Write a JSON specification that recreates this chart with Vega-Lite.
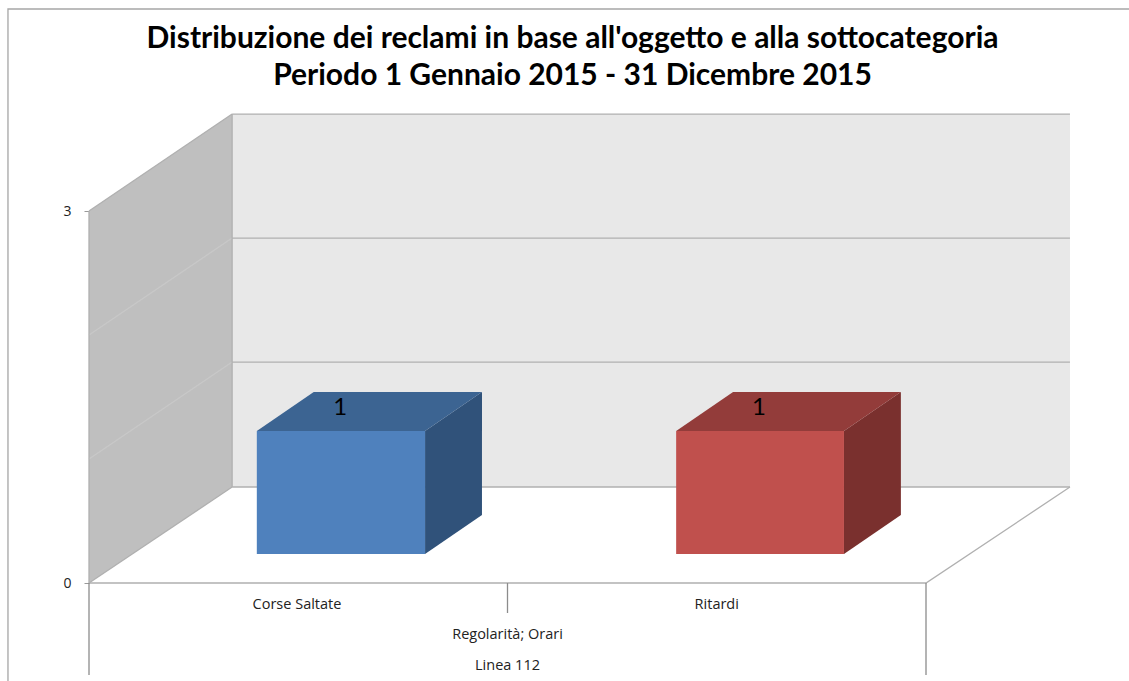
{
  "$schema": "https://vega.github.io/schema/vega-lite/v6.json",
  "width": 1129,
  "height": 681,
  "padding": 0,
  "autosize": "none",
  "background": "white",
  "config": {"view": {"stroke": null}, "font": "Lato"},
  "title": {
    "text": ["Distribuzione dei reclami in base all'oggetto e alla sottocategoria", "Periodo 1 Gennaio 2015 - 31 Dicembre 2015"],
    "anchor": "middle", "frame": "group", "orient": "top", "baseline": "top",
    "offset": -91, "dx": 8, "font": "Lato", "fontSize": 30, "fontWeight": "bold", "color": "black", "lineHeight": 37
  },
  "datasets": {
    "wall": [
      {"x": 0.342, "lo": 0.774, "hi": 3.782, "part": "fondo"},
      {"x": 2.344, "lo": 0.774, "hi": 3.782, "part": "fondo"},
      {"x": 0, "lo": 0, "hi": 3, "part": "lato"},
      {"x": 0.342, "lo": 0.774, "hi": 3.782, "part": "lato"}
    ],
    "lines": [
      {"id": "cornice", "k": "cornice", "x": -0.1936, "y": -0.79},
      {"id": "cornice", "k": "cornice", "x": -0.1936, "y": 4.629},
      {"id": "cornice", "k": "cornice", "x": 2.49, "y": 4.629},
      {"id": "griglia1", "k": "griglia", "x": 0.342, "y": 1.782},
      {"id": "griglia1", "k": "griglia", "x": 2.344, "y": 1.782},
      {"id": "griglia2", "k": "griglia", "x": 0.342, "y": 2.782},
      {"id": "griglia2", "k": "griglia", "x": 2.344, "y": 2.782},
      {"id": "griglia3", "k": "griglia", "x": 0.342, "y": 3.782},
      {"id": "griglia3", "k": "griglia", "x": 2.344, "y": 3.782},
      {"id": "griglia4", "k": "griglia", "x": 0.342, "y": 0.774},
      {"id": "griglia4", "k": "griglia", "x": 2.344, "y": 0.774},
      {"id": "lato1", "k": "chiara", "x": 0, "y": 1},
      {"id": "lato1", "k": "chiara", "x": 0.342, "y": 1.782},
      {"id": "lato2", "k": "chiara", "x": 0, "y": 2},
      {"id": "lato2", "k": "chiara", "x": 0.342, "y": 2.782},
      {"id": "bordoA", "k": "griglia", "x": 0, "y": 0},
      {"id": "bordoA", "k": "griglia", "x": 0, "y": 3},
      {"id": "bordoB", "k": "griglia", "x": 0, "y": 3},
      {"id": "bordoB", "k": "griglia", "x": 0.342, "y": 3.782},
      {"id": "bordoC", "k": "griglia", "x": 0.342, "y": 3.782},
      {"id": "bordoC", "k": "griglia", "x": 0.342, "y": 0.774},
      {"id": "bordoD", "k": "griglia", "x": 0, "y": 0},
      {"id": "bordoD", "k": "griglia", "x": 0.342, "y": 0.774},
      {"id": "pavimento", "k": "griglia", "x": 0, "y": 0},
      {"id": "pavimento", "k": "griglia", "x": 2, "y": 0},
      {"id": "pavimento", "k": "griglia", "x": 2.344, "y": 0.774},
      {"id": "div0", "k": "divisore", "x": 0, "y": 0},
      {"id": "div0", "k": "divisore", "x": 0, "y": -0.742},
      {"id": "div1", "k": "divisore", "x": 1, "y": 0},
      {"id": "div1", "k": "divisore", "x": 1, "y": -0.242},
      {"id": "div2", "k": "divisore", "x": 2, "y": 0},
      {"id": "div2", "k": "divisore", "x": 2, "y": -0.742}
    ],
    "sides": [
      {"face": "blu", "x": 0.803, "lo": 0.234, "hi": 1.226},
      {"face": "blu", "x": 0.939, "lo": 0.548, "hi": 1.54},
      {"face": "rosso", "x": 1.804, "lo": 0.234, "hi": 1.226},
      {"face": "rosso", "x": 1.94, "lo": 0.548, "hi": 1.54}
    ],
    "tops": [
      {"face": "blu top", "y": 1.226, "x0": 0.401, "x1": 0.803},
      {"face": "blu top", "y": 1.54, "x0": 0.537, "x1": 0.939},
      {"face": "rosso top", "y": 1.226, "x0": 1.403, "x1": 1.804},
      {"face": "rosso top", "y": 1.54, "x0": 1.539, "x1": 1.94}
    ],
    "bars": [
      {"categoria": "Corse Saltate", "valore": 1, "x0": 0.401, "x1": 0.803, "base": 0.234, "top": 1.226, "xl": 0.6, "yl": 1.411},
      {"categoria": "Ritardi", "valore": 1, "x0": 1.403, "x1": 1.804, "base": 0.234, "top": 1.226, "xl": 1.601, "yl": 1.411}
    ],
    "labels": [
      {"t": "Corse Saltate", "x": 0.497, "y": -0.177},
      {"t": "Ritardi", "x": 1.5, "y": -0.177},
      {"t": "Regolarità; Orari", "x": 1, "y": -0.419},
      {"t": "Linea 112", "x": 1, "y": -0.669}
    ]
  },
  "layer": [
    {
      "data": {"name": "wall"},
      "mark": {"type": "area"},
      "encoding": {
        "x": {"field": "x", "type": "quantitative", "scale": {"domain": [0, 2], "range": [89, 926], "nice": false, "zero": false}, "axis": null},
        "y": {"field": "lo", "type": "quantitative", "scale": {"domain": [0, 3], "range": [583, 211], "nice": false, "zero": false},
          "axis": {"values": [0, 3], "title": null, "grid": false, "domain": false, "offset": -89, "tickSize": 5, "tickColor": "#999999", "labelPadding": 13, "labelFont": "Open Sans", "labelFontSize": 14, "labelColor": "#222222", "format": "d"}},
        "y2": {"field": "hi"},
        "fill": {"field": "part", "type": "nominal", "scale": {"domain": ["fondo", "lato", "blu", "rosso", "blu top", "rosso top"], "range": ["#e8e8e8", "#bfbfbf", "#30527a", "#7a302e", "#3c6492", "#933c3a"]}, "legend": null}
      }
    },
    {
      "data": {"name": "lines"},
      "mark": {"type": "line", "strokeWidth": 1.3},
      "encoding": {
        "x": {"field": "x", "type": "quantitative"},
        "y": {"field": "y", "type": "quantitative"},
        "detail": {"field": "id"},
        "stroke": {"field": "k", "type": "nominal", "scale": {"domain": ["cornice", "griglia", "chiara", "divisore"], "range": ["#a6a6a6", "#b0b0b0", "#c8c8c8", "#8c8c8c"]}, "legend": null}
      }
    },
    {
      "data": {"name": "sides"},
      "mark": {"type": "area"},
      "encoding": {
        "x": {"field": "x", "type": "quantitative"},
        "y": {"field": "lo", "type": "quantitative"},
        "y2": {"field": "hi"},
        "fill": {"field": "face", "type": "nominal", "legend": null}
      }
    },
    {
      "data": {"name": "tops"},
      "mark": {"type": "area", "orient": "horizontal"},
      "encoding": {
        "y": {"field": "y", "type": "quantitative"},
        "x": {"field": "x0", "type": "quantitative"},
        "x2": {"field": "x1"},
        "fill": {"field": "face", "type": "nominal", "legend": null}
      }
    },
    {
      "data": {"name": "bars"},
      "mark": {"type": "rect"},
      "encoding": {
        "x": {"field": "x0", "type": "quantitative"},
        "x2": {"field": "x1"},
        "y": {"field": "base", "type": "quantitative"},
        "y2": {"field": "top"},
        "color": {"field": "categoria", "type": "nominal", "scale": {"domain": ["Corse Saltate", "Ritardi"], "range": ["#4f81bd", "#c0504d"]}, "legend": null}
      }
    },
    {
      "data": {"name": "bars"},
      "mark": {"type": "text", "font": "Lato", "fontSize": 24, "color": "black", "baseline": "middle"},
      "encoding": {
        "x": {"field": "xl", "type": "quantitative"},
        "y": {"field": "yl", "type": "quantitative"},
        "text": {"field": "valore", "type": "quantitative"}
      }
    },
    {
      "data": {"name": "labels"},
      "mark": {"type": "text", "font": "Open Sans", "fontSize": 14.5, "color": "#222222", "baseline": "middle"},
      "encoding": {
        "x": {"field": "x", "type": "quantitative"},
        "y": {"field": "y", "type": "quantitative"},
        "text": {"field": "t", "type": "nominal"}
      }
    }
  ]
}
